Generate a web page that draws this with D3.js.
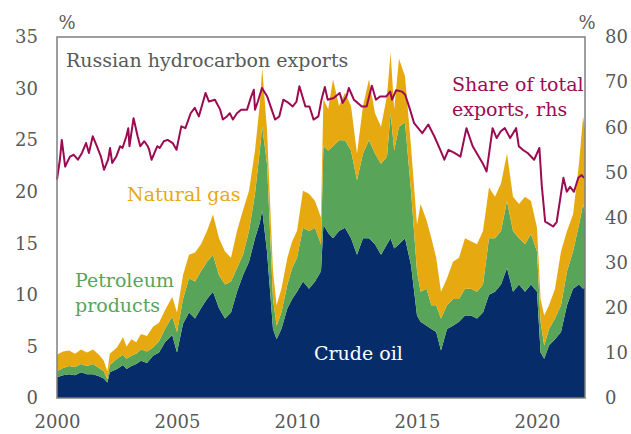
<!DOCTYPE html>
<html>
<head>
<meta charset="utf-8">
<script src="https://cdn.jsdelivr.net/npm/d3@7"></script>
<style>
  body { margin: 0; background: #fff; }
  svg text { font-family: "DejaVu Serif", serif; }
</style>
</head>
<body>
<svg id="chart" width="631" height="434"></svg>
<script>
// sample dates (decimal years) for the stacked areas, values in %
const dates = [
  2000.0, 2000.25, 2000.5, 2000.75, 2001.0, 2001.25, 2001.5, 2001.75, 2001.95, 2002.1,
  2002.2, 2002.5, 2002.75, 2002.9, 2003.1, 2003.3, 2003.5, 2003.75, 2004.0, 2004.25,
  2004.5, 2004.8, 2005.0, 2005.25, 2005.5, 2005.75, 2006.0, 2006.25, 2006.5, 2006.75,
  2007.0, 2007.25, 2007.5, 2007.75, 2008.0, 2008.25, 2008.45, 2008.55, 2008.75, 2009.0,
  2009.15, 2009.35, 2009.6, 2009.8, 2010.0, 2010.25, 2010.5, 2010.75, 2011.0, 2011.1,
  2011.3, 2011.5, 2011.75, 2012.0, 2012.25, 2012.5, 2012.75, 2013.0, 2013.25, 2013.5,
  2013.75, 2013.9, 2014.05, 2014.25, 2014.5, 2014.75, 2015.0, 2015.15, 2015.4, 2015.6,
  2015.8, 2016.0, 2016.25, 2016.5, 2016.75, 2017.0, 2017.25, 2017.5, 2017.75, 2018.0,
  2018.25, 2018.5, 2018.75, 2019.0, 2019.25, 2019.5, 2019.75, 2020.0, 2020.15, 2020.3,
  2020.5, 2020.75, 2021.0, 2021.25, 2021.5, 2021.75, 2021.92, 2022.0
];
const crudeOil = [
  2.0, 2.2, 2.3, 2.2, 2.5, 2.3, 2.3, 2.1, 1.9, 1.5,
  2.5, 2.8, 3.2, 2.8, 3.1, 3.3, 3.6, 3.4, 4.1, 4.4,
  5.4, 6.1, 4.4, 7.2, 8.3, 7.7, 8.7, 9.6, 10.3, 8.7,
  7.7, 8.3, 10.3, 11.9, 13.2, 15.5, 17.0, 18.2, 14.2, 6.7,
  5.7, 6.7, 8.7, 9.6, 10.3, 11.3, 10.6, 11.3, 12.3, 16.8,
  16.0, 15.5, 16.2, 16.5, 15.5, 13.9, 15.5, 15.5, 14.9, 13.9,
  14.9, 15.5, 14.5, 14.9, 15.5, 12.9, 8.0, 7.4, 7.0, 6.7,
  6.4, 4.6, 6.7, 7.0, 7.4, 8.0, 8.0, 7.7, 8.3, 10.0,
  10.3, 11.0, 12.6, 10.3, 11.0, 10.3, 11.0, 10.3, 4.4, 3.8,
  5.1, 5.7, 6.4, 9.0, 10.6, 11.0, 10.6, 10.8
];
const petroleumProducts = [
  0.6, 0.7, 0.8, 0.8, 0.8, 0.8, 1.0, 0.8, 0.7, 0.3,
  0.7, 1.0, 1.0, 1.0, 1.0, 1.0, 1.1, 1.1, 0.8, 1.1,
  1.3, 1.8, 2.0, 2.4, 3.3, 3.6, 3.6, 3.6, 3.6, 3.2,
  3.3, 3.0, 2.3, 2.0, 3.0, 4.3, 7.0, 8.1, 8.5, 2.9,
  1.3, 1.6, 2.3, 3.0, 3.3, 5.2, 5.6, 5.2, 2.6, 7.6,
  8.0, 8.9, 8.8, 8.5, 8.5, 7.2, 8.2, 9.5, 8.8, 8.8,
  8.5, 12.1, 9.5, 11.4, 11.2, 7.2, 4.3, 2.9, 3.6, 2.3,
  2.6, 3.1, 2.3, 2.6, 2.2, 2.6, 2.6, 2.6, 2.7, 5.5,
  5.2, 5.2, 6.5, 5.9, 4.5, 4.6, 4.9, 3.9, 3.0, 1.3,
  1.6, 2.0, 2.6, 3.3, 3.6, 5.8, 8.2, 7.2
];
const naturalGas = [
  1.6, 1.6, 1.5, 1.3, 1.4, 1.3, 1.4, 1.3, 1.0, 0.8,
  1.1, 1.1, 1.7, 1.2, 1.6, 1.1, 1.5, 1.5, 2.0, 1.8,
  1.8, 1.9, 1.9, 2.3, 2.3, 2.8, 2.6, 3.0, 3.9, 3.6,
  3.2, 2.3, 3.6, 4.3, 3.9, 4.2, 4.5, 5.7, 3.3, 2.7,
  2.0, 2.3, 2.6, 2.6, 2.6, 3.6, 3.6, 2.6, 2.6, 4.6,
  4.0, 6.5, 3.3, 4.6, 4.3, 2.6, 4.6, 5.9, 3.9, 3.6,
  5.9, 5.9, 4.0, 6.6, 4.5, 4.3, 4.5, 8.5, 6.6, 6.5,
  4.6, 2.6, 2.6, 3.6, 4.0, 4.9, 4.6, 4.6, 5.2, 4.9,
  4.0, 4.6, 4.6, 3.3, 3.3, 4.6, 3.2, 2.3, 2.2, 2.9,
  2.3, 2.9, 5.2, 3.9, 3.6, 5.9, 8.5, 8.0
];

// share of hydrocarbons in total exports, rhs
const shareDates = [
  2000.0, 2000.12, 2000.2, 2000.34, 2000.54, 2000.7, 2000.87, 2001.04, 2001.21, 2001.33,
  2001.49, 2001.66, 2001.83, 2001.96, 2002.13, 2002.21, 2002.3, 2002.47, 2002.63, 2002.73,
  2002.89, 2002.97, 2003.02, 2003.19, 2003.36, 2003.47, 2003.64, 2003.78, 2003.84, 2003.94,
  2004.18, 2004.28, 2004.45, 2004.61, 2004.82, 2004.98, 2005.18, 2005.35, 2005.57, 2005.74,
  2005.91, 2006.19, 2006.33, 2006.58, 2006.8, 2006.91, 2007.08, 2007.2, 2007.33, 2007.5,
  2007.67, 2007.92, 2008.09, 2008.2, 2008.25, 2008.37, 2008.54, 2008.76, 2009.09, 2009.26,
  2009.43, 2009.65, 2009.82, 2009.98, 2010.1, 2010.35, 2010.52, 2010.69, 2010.89, 2011.02,
  2011.16, 2011.28, 2011.53, 2011.78, 2011.9, 2012.06, 2012.16, 2012.37, 2012.53, 2012.7,
  2012.9, 2013.04, 2013.12, 2013.29, 2013.46, 2013.71, 2013.88, 2013.96, 2014.13, 2014.38,
  2014.51, 2014.71, 2014.88, 2015.05, 2015.22, 2015.47, 2015.72, 2015.97, 2016.14, 2016.31,
  2016.56, 2016.81, 2017.06, 2017.32, 2017.57, 2017.73, 2017.9, 2018.15, 2018.32, 2018.49,
  2018.66, 2018.88, 2019.13, 2019.24, 2019.41, 2019.61, 2019.88, 2020.1, 2020.2, 2020.34,
  2020.5, 2020.67, 2020.82, 2021.1, 2021.24, 2021.38, 2021.54, 2021.72, 2021.86, 2021.96
];
const shareOfExports = [
  48.4, 52.8, 57.2, 51.3, 53.5, 53.9, 52.8, 54.3, 56.5, 54.3,
  58.0, 55.8, 53.5, 50.6, 52.8, 55.4, 52.1, 53.5, 55.8, 55.4,
  58.0, 59.8, 55.8, 62.0, 58.0, 55.8, 56.9, 55.8, 55.0, 52.8,
  55.8, 55.4, 56.9, 57.2, 56.5, 55.0, 60.2, 59.8, 63.1, 64.3,
  62.4, 67.6, 65.7, 66.1, 63.9, 61.7, 62.4, 63.1, 61.7, 63.1,
  63.9, 63.9, 66.8, 68.3, 63.9, 65.7, 68.7, 66.8, 61.7, 62.4,
  66.1, 65.4, 64.6, 65.7, 69.1, 64.6, 64.6, 61.7, 62.4, 66.1,
  68.9, 66.1, 66.5, 67.6, 65.4, 66.8, 68.7, 66.1, 65.4, 64.6,
  64.6, 67.6, 69.2, 66.1, 66.8, 66.8, 67.9, 66.1, 68.2, 67.9,
  67.2, 63.9, 60.9, 59.8, 58.7, 60.6, 58.0, 55.0, 52.8, 55.0,
  54.3, 53.5, 59.8, 55.8, 53.5, 52.1, 50.2, 59.8, 57.6, 59.1,
  59.8, 57.6, 59.8, 55.8, 55.0, 54.3, 52.8, 55.4, 47.0, 39.1,
  38.6, 38.0, 39.0, 48.8, 45.7, 46.8, 45.7, 48.8, 49.4, 48.8
];

const yTicks = [0, 5, 10, 15, 20, 25, 30, 35];
const rTicks = [0, 10, 20, 30, 40, 50, 60, 70, 80];
const xTicks = [2000, 2005, 2010, 2015, 2020];

const colours = {
  crude: "#072c6a",
  products: "#58a55a",
  gas: "#e6a90f",
  share: "#9c0b52",
  grey: "#595959"
};

const margin = { top: 37, right: 46, bottom: 36, left: 57 };
const width = 631 - margin.left - margin.right;
const height = 434 - margin.top - margin.bottom;

const svg = d3.select("#chart");
const chart = svg
  .append("g")
  .attr("transform", `translate(${margin.left}, ${margin.top})`);

const xScale = d3.scaleLinear().domain([2000, 2022]).range([0, width]);
const yScale = d3.scaleLinear().domain([0, 35]).range([height, 0]);
const yRight = d3.scaleLinear().domain([0, 80]).range([height, 0]);

// stacked areas
const table = dates.map((d, i) => ({
  date: d,
  crude: crudeOil[i],
  products: petroleumProducts[i],
  gas: naturalGas[i]
}));
const keys = ["crude", "products", "gas"];
const series = d3.stack().keys(keys)(table);

const area = d3
  .area()
  .x(d => xScale(d.data.date))
  .y0(d => yScale(d[0]))
  .y1(d => yScale(d[1]));

chart
  .selectAll(".layer")
  .data(series)
  .enter()
  .append("path")
  .attr("class", "layer")
  .attr("d", area)
  .attr("fill", d => colours[d.key]);

// share line
const line = d3
  .line()
  .x((d, i) => xScale(shareDates[i]))
  .y(d => yRight(d));

chart
  .append("path")
  .datum(shareOfExports)
  .attr("d", line)
  .attr("fill", "none")
  .attr("stroke", colours.share)
  .attr("stroke-width", 2)
  .attr("stroke-linejoin", "round");

// frame
chart
  .append("rect")
  .attr("width", width)
  .attr("height", height)
  .attr("fill", "none")
  .attr("stroke", "#7f7f7f")
  .attr("stroke-width", 1.5);

// axes
function styleAxis(g) {
  g.select(".domain").remove();
  g.selectAll("text")
    .attr("fill", colours.grey)
    .style("font-size", "18px")
    .style("font-family", "DejaVu Serif");
}

chart
  .append("g")
  .call(d3.axisLeft(yScale).tickValues(yTicks).tickSize(0).tickPadding(19))
  .call(styleAxis);

chart
  .append("g")
  .attr("transform", `translate(${width}, 0)`)
  .call(d3.axisRight(yRight).tickValues(rTicks).tickSize(0).tickPadding(20))
  .call(styleAxis);

chart
  .append("g")
  .attr("transform", `translate(0, ${height})`)
  .call(
    d3.axisBottom(xScale).tickValues(xTicks).tickFormat(d3.format("d")).tickSize(0).tickPadding(17)
  )
  .call(styleAxis);

// unit labels
svg.append("text").attr("x", 67).attr("y", 29).attr("text-anchor", "middle")
  .attr("fill", colours.grey).style("font-size", "18px").text("%");
svg.append("text").attr("x", 587).attr("y", 29).attr("text-anchor", "middle")
  .attr("fill", colours.grey).style("font-size", "18px").text("%");

// annotations
const labels = [
  { text: "Russian hydrocarbon exports", x: 66, y: 67, fill: colours.grey },
  { text: "Natural gas", x: 127, y: 201, fill: colours.gas },
  { text: "Petroleum", x: 75, y: 287, fill: colours.products },
  { text: "products", x: 75, y: 312, fill: colours.products },
  { text: "Crude oil", x: 314, y: 360, fill: "#ffffff" },
  { text: "Share of total", x: 452, y: 91, fill: colours.share },
  { text: "exports, rhs", x: 452, y: 116, fill: colours.share }
];

svg
  .selectAll(".note")
  .data(labels)
  .enter()
  .append("text")
  .attr("class", "note")
  .attr("x", d => d.x)
  .attr("y", d => d.y)
  .attr("fill", d => d.fill)
  .style("font-size", "19px")
  .text(d => d.text);
</script>
</body>
</html>
